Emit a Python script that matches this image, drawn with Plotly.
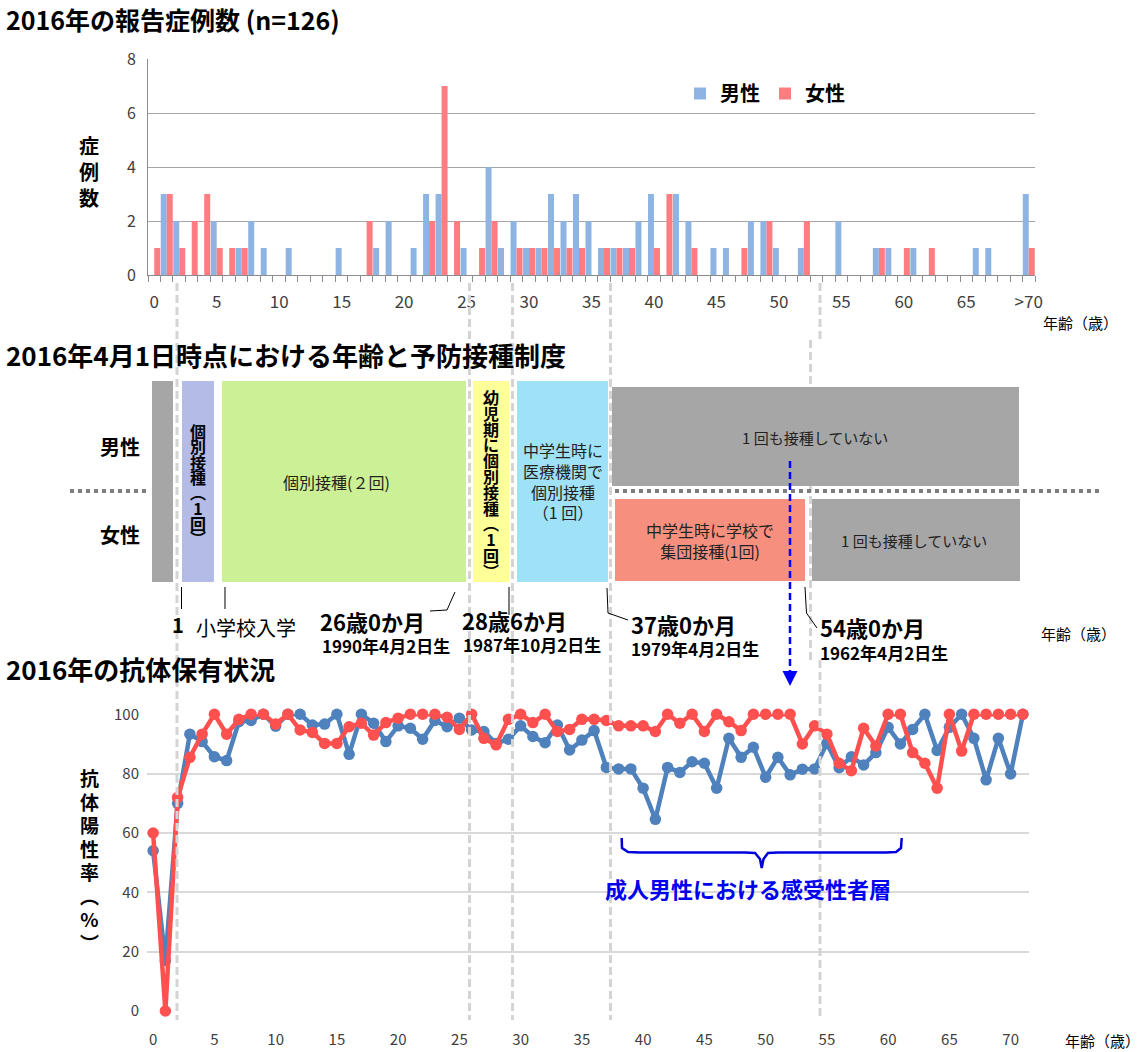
import plotly.graph_objects as go

W, H = 1146, 1052
JP = "Noto Sans CJK JP"

# ---------------- data ----------------
case_ages = list(range(71))
case_tick_vals = list(range(0, 71, 5))
case_tick_text = ["0", "5", "10", "15", "20", "25", "30", "35", "40", "45", "50", "55", "60", "65", ">70"]
male_cases = [0, 3, 2, 0, 0, 2, 0, 1, 2, 1, 0, 1, 0, 0, 0, 1, 0, 0, 1, 2,
              0, 1, 3, 3, 0, 1, 0, 4, 1, 2, 1, 1, 3, 2, 3, 2, 1, 1, 1, 2,
              3, 0, 3, 2, 0, 1, 1, 0, 2, 2, 1, 0, 1, 0, 0, 2, 0, 0, 1, 1,
              0, 1, 0, 0, 0, 0, 1, 1, 0, 0, 3]
female_cases = [1, 3, 1, 2, 3, 1, 1, 1, 0, 0, 0, 0, 0, 0, 0, 0, 0, 2, 0, 0,
                0, 0, 2, 7, 2, 0, 1, 2, 0, 1, 1, 1, 1, 1, 1, 0, 1, 1, 1, 0,
                1, 3, 0, 1, 0, 0, 0, 1, 0, 2, 0, 0, 2, 0, 0, 0, 0, 0, 1, 0,
                1, 0, 1, 0, 0, 0, 0, 0, 0, 0, 1]

sero_ages = list(range(72))
sero_tick_vals = list(range(0, 71, 5))
male_pos = [54, 17, 70, 93.3, 90.8, 85.7, 84.4, 97.5, 97.9, 100,
            96, 100, 100, 96.4, 96.7, 100, 86.5, 100, 97, 90.8,
            96.1, 95.3, 91.6, 97.9, 95.8, 98.7, 94.7, 94.2, 90.2, 91.6,
            96.1, 92.5, 90.4, 96.4, 88, 91.3, 94.5, 82.1, 81.6, 81.6,
            75.1, 64.6, 82.1, 80.4, 84, 83.5, 75.1, 91.9, 85.5, 88.9,
            78.8, 85.5, 79.6, 81.5, 81.6, 90.2, 82, 85.7, 82.9, 87.1,
            95.6, 90, 94.9, 100, 87.8, 95.6, 100, 91.9, 77.9, 91.9,
            79.9, 100]
female_pos = [60, 0, 72, 85.5, 93.3, 100, 93.3, 98.3, 100, 100,
              96.7, 100, 94.7, 93.9, 90.2, 90.2, 95.8, 97, 93, 97.2,
              98.7, 100, 100, 100, 99, 94.9, 100, 91.9, 89.7, 98.3,
              100, 97.2, 100, 94.2, 94.9, 98.3, 98.3, 97.9, 96.1, 96.1,
              96.1, 94.2, 100, 97, 100, 94.2, 100, 97.5, 94.5, 100,
              100, 100, 100, 90, 96.1, 93.3, 83.5, 81, 95.3, 89.3,
              100, 100, 87.1, 83.5, 75.1, 100, 87.6, 100, 100, 100,
              100, 100]

# ---------------- helpers (pixel -> paper) ----------------
def px(x):
    return x / W


def py(y):
    return 1 - y / H


annotations = []
shapes = []


def text(s, x, y, size, bold=False, color="#000000", xanchor="center", yanchor="middle"):
    annotations.append(dict(text=("<b>%s</b>" % s) if bold else s, x=px(x), y=py(y),
                            xref="paper", yref="paper", showarrow=False,
                            xanchor=xanchor, yanchor=yanchor,
                            font=dict(family=JP, size=size, color=color)))


def vstack(chars, x, y_center, glyph_size, pitch, bold=True, color="#000000"):
    """Vertical (top-to-bottom) Japanese text as one annotation; line pitch = 1.3 * base size."""
    base = pitch / 1.3
    body = "<br>".join('<span style="font-size:%.1fpx">%s</span>' % (glyph_size, c) for c in chars)
    if bold:
        body = "<b>%s</b>" % body
    annotations.append(dict(text=body, x=px(x), y=py(y_center), xref="paper", yref="paper",
                            showarrow=False, xanchor="center", yanchor="middle",
                            font=dict(family=JP, size=base, color=color)))


def rect(x0, y0, x1, y1, color):
    shapes.append(dict(type="rect", xref="paper", yref="paper", x0=px(x0), x1=px(x1),
                       y0=py(y0), y1=py(y1), fillcolor=color, line=dict(width=0), layer="above"))


def seg(pts, color="#000000", width=1, dash="solid"):
    path = "M " + " L ".join("%f,%f" % (px(a), py(b)) for a, b in pts)
    shapes.append(dict(type="path", xref="paper", yref="paper", path=path,
                       line=dict(color=color, width=width, dash=dash), layer="above"))


# ---------------- figure ----------------
fig = go.Figure()
fig.add_trace(go.Bar(x=case_ages, y=male_cases, name="<b>男性</b>", marker=dict(color="#8eb4e3", line=dict(width=0)),
                     xaxis="x", yaxis="y"))
fig.add_trace(go.Bar(x=case_ages, y=female_cases, name="<b>女性</b>", marker=dict(color="#ff7c80", line=dict(width=0)),
                     xaxis="x", yaxis="y"))
fig.add_trace(go.Scatter(x=sero_ages, y=male_pos, mode="lines+markers", name="男性 抗体陽性率",
                         line=dict(color="#4f81bd", width=4.5), marker=dict(size=11.5, color="#4f81bd"),
                         xaxis="x2", yaxis="y2", showlegend=False, cliponaxis=False))
fig.add_trace(go.Scatter(x=sero_ages, y=female_pos, mode="lines+markers", name="女性 抗体陽性率",
                         line=dict(color="#ff5050", width=4.5), marker=dict(size=11.5, color="#ff5050"),
                         xaxis="x2", yaxis="y2", showlegend=False, cliponaxis=False))

# vertical grey dashed guide lines across the three panels
GUIDE = dict(color="#d4d4d4", width=3, dash="8px,4px")
for gx in [177, 469.5, 512.5, 610.5]:
    seg([(gx, 283), (gx, 1020)], **GUIDE)
seg([(820, 283), (820, 340)], **GUIDE)
seg([(810.5, 340), (810.5, 660)], **GUIDE)
seg([(820, 660), (820, 1020)], **GUIDE)

# titles
text("2016年の報告症例数 (n=126)", 4, 19, 25, bold=True, xanchor="left")
text("2016年4月1日時点における年齢と予防接種制度", 4, 355, 26, bold=True, xanchor="left")
text("2016年の抗体保有状況", 4, 668, 26, bold=True, xanchor="left")

# top chart axis titles
vstack(["症", "例", "数"], 89, 171, 20, 26)
text("年齢（歳）", 1120, 323, 15, xanchor="right")

# ---------- middle schematic ----------
rect(152, 381, 173, 582, "#a6a6a6")
rect(182, 381, 214, 582, "#b3bbe6")
rect(222, 381, 466, 582, "#ccf095")
rect(473, 381, 509, 582, "#ffff99")
rect(517, 381, 608, 582, "#9fe1f7")
rect(612, 387, 1019, 486, "#a6a6a6")
rect(615, 499, 805, 581, "#f68f7e")
rect(812, 499, 1020, 581, "#a6a6a6")

seg([(70, 491), (147, 491)], color="#7f7f7f", width=4, dash="4px,4px")
seg([(615, 491), (1100, 491)], color="#7f7f7f", width=4, dash="4px,4px")

text("男性", 120, 446, 20, bold=True)
text("女性", 120, 534, 20, bold=True)

vstack(["個", "別", "接", "種", "︵", "1", "回", "︶"], 198, 484, 16, 15.3)
vstack(["幼", "児", "期", "に", "個", "別", "接", "種", "︵", "1", "回", "︶"], 491, 484, 16, 15.8)
text("個別接種(２回)", 336, 482, 16, color="#222")
annotations.append(dict(text="中学生時に<br>医療機関で<br>個別接種<br>（1 回）", x=px(563), y=py(481),
                        xref="paper", yref="paper", showarrow=False, xanchor="center", yanchor="middle",
                        font=dict(family=JP, size=16, color="#222")))
text("1 回も接種していない", 815, 437, 15, color="#222")
annotations.append(dict(text="中学生時に学校で<br>集団接種(1回)", x=px(710), y=py(540),
                        xref="paper", yref="paper", showarrow=False, xanchor="center", yanchor="middle",
                        font=dict(family=JP, size=16, color="#222")))
text("1 回も接種していない", 914, 540, 15, color="#222")

# cut-off labels and connectors
seg([(181.5, 587), (181.5, 609)])
seg([(225, 587), (225, 609)])
seg([(455, 592), (447, 610), (430, 611)])
seg([(509, 587), (509, 615)])
seg([(607, 588), (608, 613), (628, 620)])
seg([(805, 587), (806.5, 613), (817, 628)])

text("1", 178, 624, 20, bold=True)
text("小学校入学", 246, 627, 20)
text("26歳0か月", 372, 621, 22, bold=True)
text("1990年4月2日生", 386, 645, 17, bold=True)
text("28歳6か月", 514, 620, 22, bold=True)
text("1987年10月2日生", 532, 644, 17, bold=True)
text("37歳0か月", 683, 624, 22, bold=True)
text("1979年4月2日生", 695, 648, 17, bold=True)
text("54歳0か月", 872, 627, 22, bold=True)
text("1962年4月2日生", 884, 652, 17, bold=True)
text("年齢（歳）", 1078, 633, 15)

# blue dashed arrow
seg([(790, 461), (790, 676)], color="#0000ff", width=2.5, dash="7px,4px")
annotations.append(dict(text="", x=px(790), y=py(686), xref="paper", yref="paper",
                        ax=0, ay=-14, axref="pixel", ayref="pixel", showarrow=True,
                        arrowhead=2, arrowsize=1.2, arrowwidth=2.5, arrowcolor="#0000ff"))

# ---------- bottom chart extras ----------
vstack(["抗", "体", "陽", "性", "率", "︵", "%", "︶"], 89, 860, 19, 23.5)
text("年齢（歳）", 1142, 1040, 15, xanchor="right")

brace = [(621.7, 838), (622, 848), (628, 852), (640, 852.5), (745, 852.5), (755, 853), (760, 859), (761.7, 868),
         (763.5, 859), (768, 853), (778, 852.5), (886, 852.5), (896, 852), (901, 848), (901.7, 838)]
seg(brace, color="#0000dd", width=2.5)
text("成人男性における感受性者層", 748, 888, 22, bold=True, color="#0000ee")

GRID_TOP = "#a6a6a6"
fig.update_layout(
    width=W, height=H, margin=dict(l=0, r=0, t=0, b=0, autoexpand=False),
    paper_bgcolor="white", plot_bgcolor="rgba(0,0,0,0)",
    font=dict(family=JP, color="#000000"),
    barmode="group", bargap=0.04, bargroupgap=0,
    showlegend=True,
    legend=dict(orientation="h", x=px(680), y=py(74), xanchor="left", yanchor="top",
                font=dict(family=JP, size=20, color="#000"), itemwidth=30,
                bgcolor="rgba(0,0,0,0)"),
    xaxis=dict(domain=[px(148), px(1035)], range=[-0.5, 70.5], anchor="y", automargin=False,
               tickmode="array", tickvals=case_tick_vals, ticktext=case_tick_text,
               ticks="", ticklabelstandoff=12, showline=True, linecolor="#8c8c8c", linewidth=1,
               showgrid=False, zeroline=False, tickfont=dict(size=17, color="#404040"),
               minor=dict(tickmode="linear", tick0=-0.5, dtick=1, ticks="outside", ticklen=6,
                          tickcolor="#8c8c8c", showgrid=False)),
    yaxis=dict(domain=[py(275), py(59)], range=[0, 8], dtick=2, anchor="x", automargin=False,
               showgrid=True, gridcolor=GRID_TOP, showline=True, linecolor="#8c8c8c",
               zeroline=False, ticks="", ticklabelstandoff=8, tickfont=dict(size=16, color="#404040")),
    xaxis2=dict(domain=[px(147), px(1029)], range=[-0.5, 71.5], anchor="y2", automargin=False,
                tickmode="array", tickvals=sero_tick_vals, ticks="", ticklabelstandoff=18,
                showgrid=False, zeroline=False, showline=False,
                tickfont=dict(size=15, color="#404040")),
    yaxis2=dict(domain=[py(1011), py(714.3)], range=[0, 100], dtick=20, anchor="x2", automargin=False,
                showgrid=True, gridcolor="#d9d9d9", gridwidth=1.5, zeroline=False, showline=False,
                ticks="", ticklabelstandoff=7, tickfont=dict(size=15, color="#404040")),
    annotations=annotations,
    shapes=shapes,
)

fig.write_html("out.html", config={"displayModeBar": False},
               post_script="document.body.style.margin='0';document.body.style.overflow='hidden';")
